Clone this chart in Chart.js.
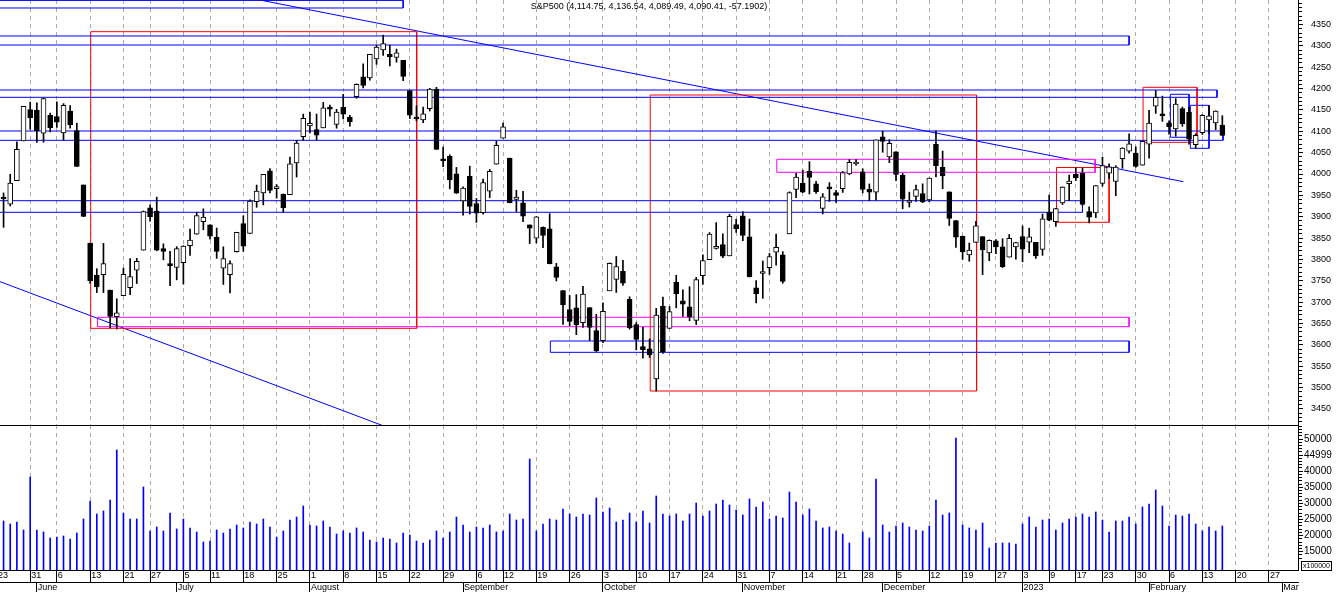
<!DOCTYPE html>
<html>
<head>
<meta charset="utf-8">
<title>S&amp;P500 daily</title>
<script src="https://cdn.jsdelivr.net/npm/chart.js@4.4.1/dist/chart.umd.min.js"></script>
<style>
  body { margin: 0; background: #fff; }
  #wrap { position: relative; width: 1336px; height: 592px; overflow: hidden; }
  canvas { position: absolute; left: 0; }
  #price { top: 0; }
  #volume { top: 425px; }
  #title { position: absolute; left: 0; top: 1px; width: 1298px; text-align: center;
           font: 9px/11px "Liberation Sans", Arial, sans-serif; color: #000; }
  #unit { position: absolute; left: 1301px; top: 561px; height: 8px; padding: 0 1px;
          border: 1px solid #000; font: 7px/8px "Liberation Sans", Arial, sans-serif; color: #000; }
</style>
</head>
<body>
<div id="wrap">
  <canvas id="price" width="1336" height="425"></canvas>
  <canvas id="volume" width="1336" height="167"></canvas>
  <div id="title"></div>
  <div id="unit">x100000</div>
</div>
<script>
const chartTitle = 'S&P500 (4,114.75, 4,136.54, 4,089.49, 4,090.41, -57.1902)';

// sessions on the time axis (the feed has no 13 Jan; the tail after 16 Feb is empty future space)
const sessions = [
  ['2022-05', [23, 24, 25, 26, 27, 31]],
  ['2022-06', [1, 2, 3, 6, 7, 8, 9, 10, 13, 14, 15, 16, 17, 21, 22, 23, 24, 27, 28, 29, 30]],
  ['2022-07', [1, 5, 6, 7, 8, 11, 12, 13, 14, 15, 18, 19, 20, 21, 22, 25, 26, 27, 28, 29]],
  ['2022-08', [1, 2, 3, 4, 5, 8, 9, 10, 11, 12, 15, 16, 17, 18, 19, 22, 23, 24, 25, 26, 29, 30, 31]],
  ['2022-09', [1, 2, 6, 7, 8, 9, 12, 13, 14, 15, 16, 19, 20, 21, 22, 23, 26, 27, 28, 29, 30]],
  ['2022-10', [3, 4, 5, 6, 7, 10, 11, 12, 13, 14, 17, 18, 19, 20, 21, 24, 25, 26, 27, 28, 31]],
  ['2022-11', [1, 2, 3, 4, 7, 8, 9, 10, 11, 14, 15, 16, 17, 18, 21, 22, 23, 25, 28, 29, 30]],
  ['2022-12', [1, 2, 5, 6, 7, 8, 9, 12, 13, 14, 15, 16, 19, 20, 21, 22, 23, 27, 28, 29, 30]],
  ['2023-01', [3, 4, 5, 6, 9, 10, 11, 12, 17, 18, 19, 20, 23, 24, 25, 26, 27, 30, 31]],
  ['2023-02', [1, 2, 3, 6, 7, 8, 9, 10, 13, 14, 15, 16, 17, 20, 21, 22, 23, 24, 27, 28]],
  ['2023-03', [1, 2, 3]]
];
const monthNames = ['2023', 'February', 'Mar', 'April', 'May', 'June', 'July', 'August',
  'September', 'October', 'November', 'December'];

const opens = [
  3919.42, 3942.94, 3929.59, 3984.60, 4077.43, 4151.09, 4149.78, 4095.41, 4137.57, 4134.72,
  4096.47, 4147.12, 4101.65, 3974.39, 3838.15, 3763.52, 3764.05, 3728.18, 3665.90, 3715.31,
  3733.89, 3774.71, 3821.75, 3920.76, 3913.00, 3825.09, 3785.99, 3781.00, 3792.61, 3831.98,
  3858.85, 3888.26, 3880.94, 3851.95, 3779.67, 3763.99, 3818.00, 3883.79, 3860.73, 3935.32,
  3955.47, 4007.20, 3965.72, 3953.22, 3951.43, 4026.13, 4087.33, 4112.38, 4104.21, 4107.96,
  4154.85, 4115.87, 4155.93, 4133.11, 4181.02, 4227.40, 4225.02, 4269.37, 4290.46, 4280.40,
  4273.13, 4266.31, 4195.08, 4133.09, 4126.55, 4153.26, 4198.74, 4034.58, 4041.25, 4000.67,
  3936.73, 3994.66, 3930.89, 3909.43, 3959.94, 4022.94, 4083.67, 4037.12, 3940.73, 3932.41,
  3880.95, 3849.91, 3875.23, 3871.40, 3782.36, 3727.14, 3682.72, 3686.44, 3651.94, 3687.01,
  3633.48, 3609.78, 3726.46, 3753.25, 3771.97, 3706.74, 3647.51, 3595.86, 3590.83, 3520.37,
  3690.41, 3638.65, 3746.26, 3703.11, 3689.05, 3657.10, 3762.01, 3799.44, 3825.97, 3834.69,
  3808.26, 3881.85, 3901.79, 3852.90, 3733.25, 3766.98, 3780.71, 3817.02, 3810.94, 3859.89,
  3963.72, 3977.97, 4006.41, 3976.82, 3919.26, 3966.39, 3956.23, 3965.51, 4000.30, 4023.34,
  4005.36, 3964.19, 3957.18, 4087.14, 4040.17, 4052.02, 3996.63, 3933.28, 3947.79, 3954.17,
  3939.29, 4069.38, 4015.54, 3958.37, 3890.91, 3853.79, 3810.47, 3839.49, 3853.26, 3815.11,
  3843.34, 3829.56, 3805.45, 3829.06, 3853.29, 3840.36, 3839.74, 3823.37, 3910.82, 3888.57,
  3932.35, 3977.57, 3999.28, 4002.25, 3911.84, 3909.04, 3978.14, 4001.74, 3982.71, 4036.08,
  4053.72, 4049.27, 4020.85, 4070.07, 4158.68, 4136.69, 4119.57, 4105.35, 4153.47, 4144.25,
  4068.92, 4096.62, 4126.70, 4119.50, 4114.75
];
const highs = [
  3981.88, 3955.68, 3999.33, 4075.14, 4158.49, 4168.34, 4166.54, 4177.51, 4142.67, 4168.78,
  4164.86, 4160.14, 4119.10, 3974.39, 3838.15, 3778.18, 3837.56, 3728.18, 3707.71, 3779.65,
  3801.79, 3802.58, 3913.65, 3927.72, 3945.86, 3836.50, 3818.99, 3829.82, 3832.19, 3870.91,
  3910.63, 3918.50, 3880.94, 3873.41, 3829.44, 3796.41, 3863.62, 3902.44, 3939.81, 3974.13,
  3999.29, 4012.44, 3975.30, 3953.22, 4039.56, 4078.95, 4140.15, 4144.95, 4140.47, 4167.66,
  4161.29, 4151.58, 4186.62, 4137.30, 4211.03, 4257.91, 4280.47, 4301.79, 4325.28, 4302.18,
  4292.53, 4266.31, 4195.08, 4159.77, 4156.56, 4200.54, 4203.04, 4062.99, 4044.98, 4015.37,
  3970.23, 4018.43, 3942.55, 3987.89, 4010.50, 4076.81, 4119.28, 4037.12, 3961.94, 3959.14,
  3880.95, 3900.45, 3876.01, 3907.07, 3790.78, 3727.14, 3715.67, 3717.53, 3736.74, 3687.01,
  3671.44, 3698.35, 3791.92, 3806.91, 3797.93, 3712.55, 3652.17, 3640.66, 3613.83, 3685.41,
  3712.00, 3689.73, 3762.79, 3728.58, 3736.00, 3757.89, 3810.74, 3862.85, 3886.15, 3859.95,
  3905.42, 3893.73, 3911.79, 3894.44, 3750.59, 3796.34, 3813.95, 3859.40, 3818.20, 3958.33,
  4001.48, 4008.97, 4028.84, 3983.09, 3954.17, 3979.89, 3962.00, 4005.88, 4033.78, 4034.02,
  4012.27, 3976.77, 4080.11, 4100.51, 4080.48, 4052.45, 4001.51, 3957.57, 3974.19, 3977.02,
  3990.71, 4100.96, 4053.76, 3958.37, 3890.91, 3854.86, 3838.24, 3889.28, 3853.26, 3845.80,
  3846.65, 3848.32, 3858.19, 3839.85, 3878.46, 3873.16, 3839.74, 3906.19, 3950.57, 3919.83,
  3970.07, 3997.76, 4015.39, 4014.16, 3922.94, 3972.96, 4039.31, 4023.92, 4019.55, 4061.57,
  4094.21, 4063.85, 4077.16, 4148.95, 4195.44, 4182.36, 4124.63, 4176.54, 4156.85, 4156.23,
  4094.36, 4138.90, 4159.77, 4148.11, 4136.54
];
const lows = [
  3909.04, 3875.13, 3925.03, 3984.60, 4077.43, 4104.88, 4073.85, 4074.37, 4098.67, 4109.18,
  4080.19, 4107.20, 4017.17, 3900.16, 3743.59, 3722.30, 3722.30, 3639.77, 3636.87, 3715.31,
  3717.69, 3743.52, 3821.75, 3889.66, 3820.14, 3799.02, 3738.67, 3752.10, 3742.06, 3809.37,
  3858.85, 3869.34, 3847.22, 3802.36, 3741.25, 3721.56, 3817.18, 3818.63, 3860.73, 3922.03,
  3927.64, 3955.77, 3943.46, 3910.74, 3951.43, 3992.97, 4079.22, 4096.02, 4079.81, 4107.96,
  4135.42, 4107.31, 4128.97, 4112.09, 4177.26, 4201.41, 4219.78, 4256.90, 4277.77, 4253.08,
  4261.98, 4218.70, 4129.86, 4124.03, 4119.97, 4147.59, 4057.66, 4017.42, 3965.21, 3954.53,
  3903.65, 3906.21, 3886.75, 3906.03, 3944.81, 4022.94, 4083.67, 3932.41, 3912.15, 3888.28,
  3837.08, 3838.50, 3827.54, 3789.49, 3749.45, 3647.47, 3644.76, 3623.76, 3640.61, 3610.40,
  3584.13, 3604.93, 3726.46, 3722.66, 3739.22, 3636.66, 3588.10, 3568.45, 3570.40, 3491.58,
  3579.68, 3638.65, 3686.53, 3666.51, 3656.28, 3647.42, 3741.65, 3799.44, 3824.07, 3803.79,
  3808.26, 3863.18, 3843.80, 3758.68, 3698.15, 3708.84, 3764.70, 3786.28, 3744.22, 3859.89,
  3944.82, 3956.40, 3953.17, 3954.34, 3906.54, 3935.98, 3933.34, 3956.88, 3998.66, 4020.76,
  3955.77, 3937.65, 3938.58, 4050.87, 4026.63, 3984.49, 3918.39, 3922.68, 3935.83, 3933.04,
  3935.30, 3993.03, 3965.65, 3879.45, 3827.91, 3800.04, 3795.62, 3839.49, 3764.49, 3797.01,
  3813.22, 3780.78, 3805.45, 3800.34, 3794.33, 3815.77, 3802.42, 3809.56, 3890.42, 3877.29,
  3928.54, 3937.56, 3984.57, 3926.59, 3885.54, 3897.86, 3971.64, 3989.79, 3949.06, 4013.29,
  4048.70, 4015.55, 4020.44, 4037.20, 4141.88, 4123.36, 4093.38, 4088.39, 4111.67, 4069.67,
  4060.79, 4092.67, 4095.01, 4103.98, 4089.49
];
const closes = [
  3973.75, 3941.48, 3978.73, 4057.84, 4158.24, 4132.15, 4101.23, 4176.82, 4108.54, 4121.43,
  4160.68, 4115.77, 4017.82, 3900.86, 3749.63, 3735.48, 3789.99, 3666.77, 3674.84, 3764.79,
  3759.89, 3795.73, 3911.74, 3900.11, 3821.55, 3818.83, 3785.38, 3825.33, 3831.39, 3845.08,
  3902.62, 3899.38, 3854.43, 3818.80, 3801.78, 3790.38, 3863.16, 3830.85, 3936.69, 3959.90,
  3998.95, 3961.63, 3966.84, 3921.05, 4023.61, 4072.43, 4130.29, 4118.63, 4091.19, 4155.17,
  4151.94, 4145.19, 4140.06, 4122.47, 4210.24, 4207.27, 4280.15, 4297.14, 4305.20, 4274.04,
  4283.74, 4228.48, 4137.99, 4128.73, 4140.77, 4199.12, 4057.66, 4030.61, 3986.16, 3955.00,
  3966.85, 3924.26, 3908.19, 3979.87, 4006.18, 4067.36, 4110.41, 3932.69, 3946.01, 3901.35,
  3873.33, 3899.89, 3855.93, 3789.93, 3757.99, 3693.23, 3655.04, 3647.29, 3719.04, 3640.47,
  3585.62, 3678.43, 3790.93, 3783.28, 3744.52, 3639.66, 3612.39, 3588.84, 3577.03, 3669.91,
  3583.07, 3677.95, 3719.98, 3695.16, 3665.78, 3752.75, 3797.34, 3859.11, 3830.60, 3807.30,
  3901.06, 3871.98, 3856.10, 3759.69, 3719.89, 3770.55, 3806.80, 3828.11, 3748.57, 3956.37,
  3992.93, 3957.25, 3991.73, 3958.79, 3946.56, 3965.34, 3949.94, 4003.58, 4027.26, 4026.12,
  3963.94, 3957.63, 4080.11, 4076.57, 4071.70, 3998.84, 3941.26, 3933.92, 3963.51, 3934.38,
  3990.56, 4019.65, 3995.32, 3895.75, 3852.36, 3817.66, 3821.62, 3878.44, 3822.39, 3844.82,
  3829.25, 3783.22, 3849.28, 3839.50, 3824.14, 3852.97, 3808.10, 3895.08, 3892.09, 3919.25,
  3969.61, 3983.17, 3990.97, 3928.86, 3898.85, 3972.61, 4019.81, 4016.95, 4016.22, 4060.43,
  4070.56, 4017.77, 4076.60, 4119.21, 4179.76, 4136.48, 4111.08, 4164.00, 4117.86, 4081.50,
  4090.46, 4137.29, 4136.13, 4147.60, 4090.41
];
// volume, units of 100000
const volumes = [
  24000, 24530, 23600, 24220, 21740, 38200, 21740, 21120, 19250, 19560,
  19870, 18940, 20800, 25150, 30740, 26710, 27640, 31050, 46580, 27020,
  25150, 25150, 35090, 21430, 22670, 21430, 27020, 22050, 25150, 22360,
  21120, 18010, 18320, 21740, 20800, 22050, 23290, 22360, 24220, 23600,
  25150, 22670, 19560, 21430, 24840, 25770, 29190, 23290, 22980, 24530,
  22670, 20490, 21430, 20800, 22360, 21120, 18630, 18010, 19250, 18940,
  17700, 20800, 20180, 18320, 17700, 18630, 21430, 19250, 21120, 25770,
  23290, 21120, 22670, 22360, 23290, 21120, 21430, 26710, 24840, 25150,
  43790, 21430, 23600, 25150, 24840, 28260, 26710, 25770, 26710, 26400,
  31680, 27330, 28570, 24220, 24840, 27020, 24220, 27640, 23910, 32300,
  26710, 26080, 26710, 24530, 26710, 30120, 26080, 27640, 29810, 31050,
  29500, 27950, 26400, 31370, 28880, 30430, 25150, 26080, 25460, 33540,
  30430, 26400, 28260, 24530, 22360, 22670, 21430, 20490, 17700, 9000,
  21120, 19250, 37580, 23290, 21120, 22980, 23910, 22670, 21740, 21430,
  22980, 31050, 26400, 27020, 50310, 23290, 22360, 21740, 23910, 16150,
  17700, 17700, 17700, 17390, 23600, 25770, 22670, 24840, 25150, 21740,
  23910, 25150, 25770, 26710, 25770, 27330, 24840, 21120, 24530, 24530,
  25770, 23600, 28880, 29810, 34160, 29190, 22980, 26400, 26080, 26710,
  23600, 21430, 22670, 21430, 22980
];

const priceLabels = [3450, 3500, 3550, 3600, 3650, 3700, 3750, 3800, 3850, 3900,
  3950, 4000, 4050, 4100, 4150, 4200, 4250, 4300, 4350];
const volumeLabels = [15000, 20000, 25000, 30000, 35000, 40000, 45000, 50000];
const volumeLabelText = ['15000', '20000', '25000', '30000', '35000', '40000', '44999', '50000'];

// drawing objects on the price pane: [from session, to session, price, price]
const blueBoxes = [
  [-5, 61.0, 4406.5, 4388.8],
  [-5, 170.0, 4323.2, 4302.1],
  [-5, 183.2, 4196.7, 4179.6],
  [-5, 184.1, 4100.7, 4078.9],
  [-5, 163.0, 3937.5, 3910.3],
  [83.1, 170.0, 3608.9, 3582.4],
  [176.2, 179.0, 4186.7, 4086.0],
  [179.2, 182.0, 4160.9, 4060.2]
];
const redBoxes = [
  [14.08, 63.03, 4333.3, 3638.6],
  [98.1, 147.1, 4185.0, 3491.8],
  [159.1, 167.0, 4015.2, 3886.9],
  [172.1, 180.2, 4203.0, 4074.2]
];
const magentaBoxes = [
  [15.1, 170.0, 3664.4, 3642.4],
  [117.1, 164.9, 4034.4, 4004.0]
];
// [session, price, session, price]
const trendLines = [
  [30, 4436.6, 178.15, 3982.0],
  [0, 3750.6, 60.5, 3395.8]
];

document.getElementById('title').textContent = chartTitle;

const days = [];
sessions.forEach(([ym, list]) => list.forEach(d => days.push(ym + '-' + String(d).padStart(2, '0'))));

function mondayOf(s) {
  const [y, m, d] = s.split('-').map(Number);
  const t = new Date(Date.UTC(y, m - 1, d));
  return t.getTime() - ((t.getUTCDay() + 6) % 7) * 86400000;
}
const weekStarts = days.map((d, i) => i).filter(i => i === 0 || mondayOf(days[i]) !== mondayOf(days[i - 1]));
const monthStarts = days.map((d, i) => i).filter(i => i > 0 && days[i].slice(0, 7) !== days[i - 1].slice(0, 7));

const X_MIN = 0.4655, X_MAX = 195.36;
const FONT = '"Liberation Sans", Arial, sans-serif';
Chart.defaults.font.family = FONT;
Chart.defaults.color = '#000';

const idx = opens.map((_, i) => i);
const wickData = idx.map(i => ({ x: i, y: [lows[i], highs[i]] }));
const bodyData = idx.map(i => ({ x: i, y: [Math.min(opens[i], closes[i]), Math.max(opens[i], closes[i])] }));
const bodyFill = idx.map(i => closes[i] >= opens[i] ? '#ffffff' : '#000000');

function boxPath([i0, i1, p0, p1]) {
  return [{ x: i0, y: p0 }, { x: i1, y: p0 }, { x: i1, y: p1 }, { x: i0, y: p1 }, { x: i0, y: p0 }];
}
function drawing(data, color) {
  return { type: 'line', data, borderColor: color, borderWidth: 1, pointRadius: 0,
           fill: false, tension: 0, order: 3 };
}
const drawings = [
  ...blueBoxes.map(b => drawing(boxPath(b), '#0000ff')),
  ...redBoxes.map(b => drawing(boxPath(b), '#ff0000')),
  ...magentaBoxes.map(b => drawing(boxPath(b), '#ff00ff')),
  ...trendLines.map(([a, pa, b, pb]) => drawing([{ x: a, y: pa }, { x: b, y: pb }], '#0000ff'))
];

const weekTicks = s => { s.ticks = weekStarts.map(v => ({ value: v })); };
const gridGrey = '#aaaaaa';

new Chart(document.getElementById('price'), {
  type: 'bar',
  data: {
    datasets: [
      ...drawings,
      { data: wickData, backgroundColor: '#000', barThickness: 1, grouped: false, order: 2 },
      { data: bodyData, backgroundColor: bodyFill, borderColor: '#000', borderWidth: 1,
        borderSkipped: false, barThickness: 5, minBarLength: 2, grouped: false, order: 1 }
    ]
  },
  options: {
    responsive: false, animation: false, events: [],
    layout: { padding: 0, autoPadding: false },
    plugins: { legend: { display: false }, tooltip: { enabled: false } },
    scales: {
      x: {
        type: 'linear', min: X_MIN, max: X_MAX, offset: false,
        afterBuildTicks: weekTicks,
        afterFit: s => { s.height = 0; s.paddingLeft = 0; s.paddingRight = 0; },
        ticks: { display: false },
        grid: { color: gridGrey, drawTicks: false, offset: false },
        border: { display: false, dash: [4, 4] }
      },
      y: {
        position: 'right', min: 3412.2, max: 4407.5,
        afterBuildTicks: s => {
          const t = [];
          for (let v = 3420; v <= 4400; v += 10) t.push({ value: v });
          s.ticks = t;
        },
        afterFit: s => { s.width = 38; s.paddingTop = 0; s.paddingBottom = 0; },
        ticks: {
          autoSkip: false, padding: 8, font: { size: 9 },
          callback: v => priceLabels.includes(v) ? String(v) : ''
        },
        grid: {
          drawOnChartArea: false, tickLength: 5, tickColor: '#000',
          tickBorderDash: c => priceLabels.includes(c.tick && c.tick.value) ? [] : [3, 30]
        },
        border: { color: '#000' }
      }
    }
  }
});

new Chart(document.getElementById('volume'), {
  type: 'bar',
  data: {
    datasets: [{
      data: volumes.map((v, i) => ({ x: i, y: v })),
      backgroundColor: '#0000ff', barThickness: 1, grouped: false
    }]
  },
  options: {
    responsive: false, animation: false, events: [],
    layout: { padding: 0, autoPadding: false },
    plugins: { legend: { display: false }, tooltip: { enabled: false } },
    scales: {
      x: {
        type: 'linear', position: 'bottom', weight: 0, min: X_MIN, max: X_MAX, offset: false,
        afterBuildTicks: weekTicks,
        afterFit: s => { s.height = 12; s.paddingLeft = 0; s.paddingRight = 0; },
        ticks: {
          autoSkip: false, maxRotation: 0, align: 'start', labelOffset: 1, padding: -12,
          font: { size: 9 }, callback: v => String(Number(days[v].slice(8)))
        },
        grid: { color: gridGrey, tickColor: '#000', tickLength: 12, tickBorderDash: [], offset: false },
        border: { color: '#000', dash: [4, 4] }
      },
      month: {
        axis: 'x', type: 'linear', position: 'bottom', weight: 1, min: X_MIN, max: X_MAX, offset: false,
        afterBuildTicks: s => { s.ticks = monthStarts.map(v => ({ value: v })); },
        afterFit: s => { s.height = 10; s.paddingLeft = 0; s.paddingRight = 0; },
        ticks: {
          autoSkip: false, maxRotation: 0, align: 'start', labelOffset: 1, padding: -10,
          font: { size: 9 }, callback: v => monthNames[Number(days[v].slice(5, 7)) - 1]
        },
        grid: { drawOnChartArea: false, tickColor: '#000', tickLength: 10, offset: false },
        border: { color: '#000' }
      },
      top: {
        axis: 'x', type: 'linear', position: 'top', min: X_MIN, max: X_MAX, offset: false,
        afterFit: s => { s.height = 0; s.paddingLeft = 0; s.paddingRight = 0; },
        ticks: { display: false },
        grid: { display: false, offset: false },
        border: { color: '#000' }
      },
      y: {
        position: 'right', min: 9306, max: 54349,
        afterBuildTicks: s => {
          const t = [];
          for (let v = 13000; v <= 54000; v += 1000) t.push({ value: v });
          s.ticks = t;
        },
        afterFit: s => { s.width = 38; s.paddingTop = 0; s.paddingBottom = 0; },
        ticks: {
          autoSkip: false, padding: 1, font: { size: 10 },
          callback: v => { const k = volumeLabels.indexOf(v); return k >= 0 ? volumeLabelText[k] : ''; }
        },
        grid: {
          drawOnChartArea: false, tickLength: 5, tickColor: '#000',
          tickBorderDash: c => volumeLabels.includes(c.tick && c.tick.value) ? [] : [3, 30]
        },
        border: { color: '#000' }
      }
    }
  }
});
</script>
</body>
</html>
